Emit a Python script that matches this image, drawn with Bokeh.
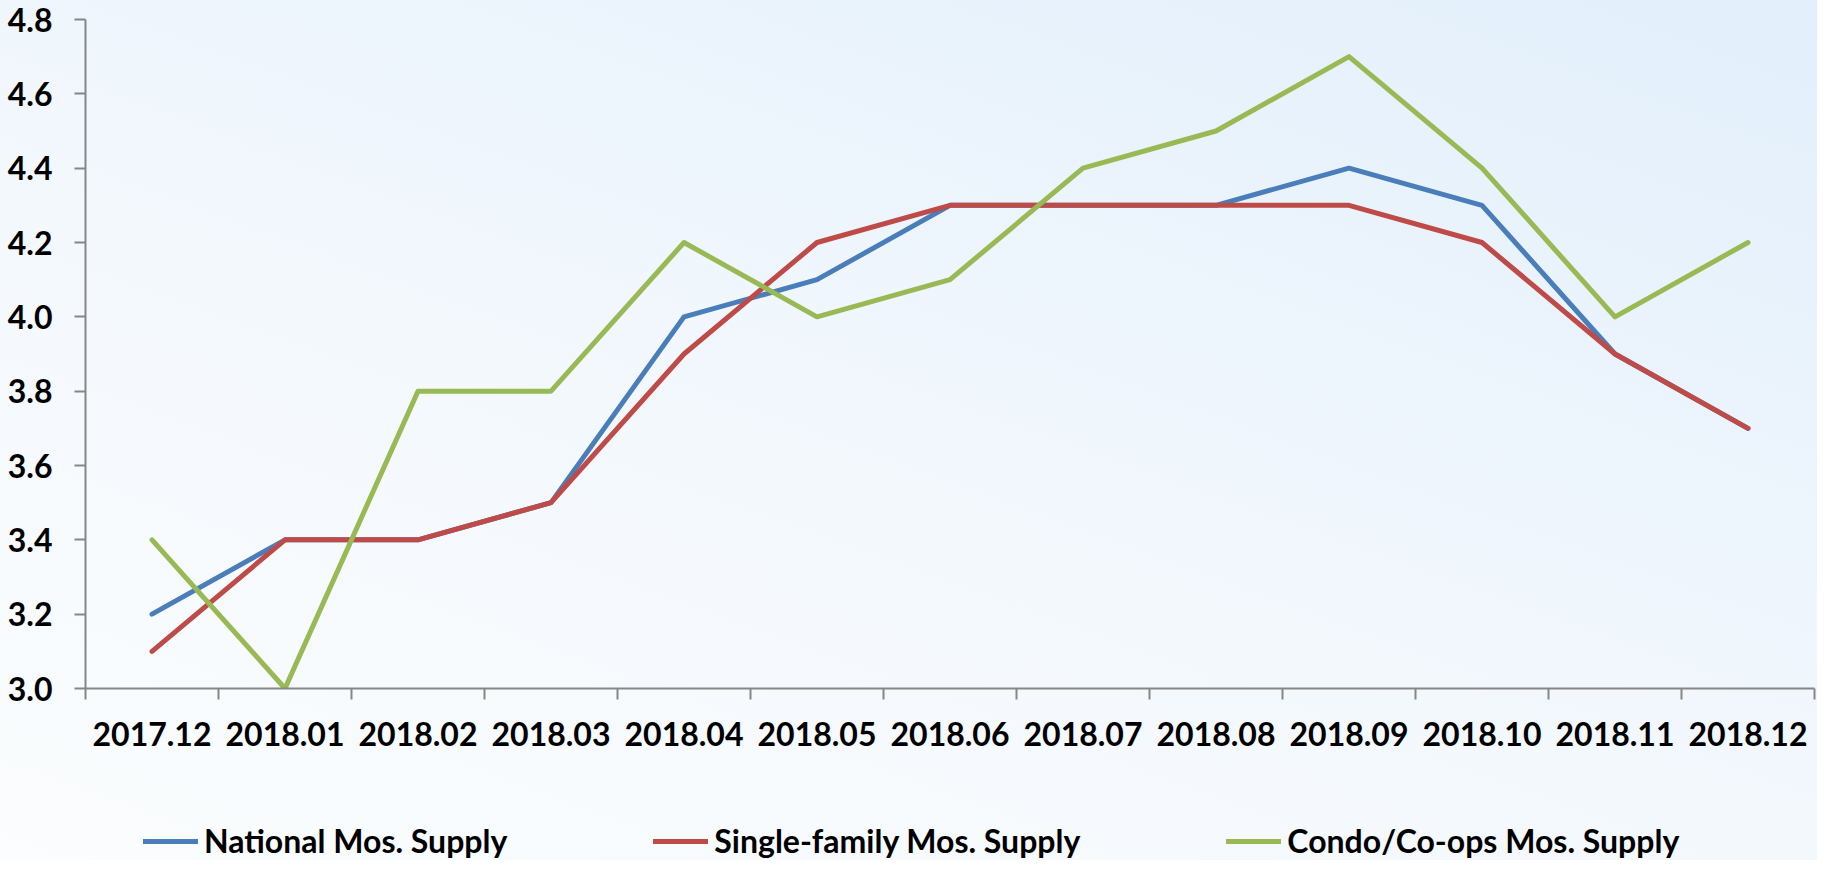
from bokeh.plotting import figure
from bokeh.layouts import column
from bokeh.models import (Range1d, LinearAxis, FixedTicker, Legend, LegendItem,
                          InlineStyleSheet, NumeralTickFormatter, ColumnDataSource)
from bokeh.embed import file_html
from bokeh.resources import INLINE

months = ["2017.12", "2018.01", "2018.02", "2018.03", "2018.04", "2018.05", "2018.06",
          "2018.07", "2018.08", "2018.09", "2018.10", "2018.11", "2018.12"]
national = [3.2, 3.4, 3.4, 3.5, 4.0, 4.1, 4.3, 4.3, 4.3, 4.4, 4.3, 3.9, 3.7]
single_family = [3.1, 3.4, 3.4, 3.5, 3.9, 4.2, 4.3, 4.3, 4.3, 4.3, 4.2, 3.9, 3.7]
condo = [3.4, 3.0, 3.8, 3.8, 4.2, 4.0, 4.1, 4.4, 4.5, 4.7, 4.4, 4.0, 4.2]
y_ticks = [3.0, 3.2, 3.4, 3.6, 3.8, 4.0, 4.2, 4.4, 4.6, 4.8]

series = [
    ("National Mos. Supply", national, "#4A7EBB"),
    ("Single-family Mos. Supply", single_family, "#BE4B48"),
    ("Condo/Co-ops Mos. Supply", condo, "#98B954"),
]

FONT = "Lato"
FS = "32px"
AXIS_COLOR = "#868686"

n = len(months)
centers = [i + 0.5 for i in range(n)]      # category centres on a 0..n axis
bounds = list(range(n + 1))                # category boundaries

p = figure(width=1817, height=766, x_range=Range1d(0, n),
           y_range=Range1d(3.0, 4.8), output_backend="svg", toolbar_location=None,
           x_axis_location=None, min_border_left=85, min_border_right=3,
           min_border_top=19, min_border_bottom=78)
p.background_fill_color = None
p.border_fill_color = None
p.outline_line_color = None
p.grid.visible = False

# y axis
ya = p.yaxis[0]
ya.ticker = FixedTicker(ticks=y_ticks)
ya.formatter = NumeralTickFormatter(format="0.0")
ya.axis_line_color = AXIS_COLOR
ya.axis_line_width = 2
ya.major_tick_line_color = AXIS_COLOR
ya.major_tick_line_width = 2
ya.major_tick_out = 11
ya.major_tick_in = 0
ya.minor_tick_line_color = None
ya.major_label_standoff = 22
ya.major_label_text_font = FONT
ya.major_label_text_font_style = "bold"
ya.major_label_text_font_size = FS
ya.major_label_text_color = "black"

# x axis: labels at category centres, ticks (minor) at category boundaries
xa = LinearAxis(ticker=FixedTicker(ticks=centers, minor_ticks=bounds),
                major_label_overrides={c: m for c, m in zip(centers, months)},
                axis_line_color=AXIS_COLOR, axis_line_width=2,
                major_tick_line_color=None, major_tick_out=11, major_tick_in=0,
                minor_tick_line_color=AXIS_COLOR, minor_tick_line_width=2,
                minor_tick_out=11, minor_tick_in=0,
                major_label_standoff=22, major_label_text_font=FONT,
                major_label_text_font_style="bold", major_label_text_font_size=FS,
                major_label_text_color="black")
p.add_layout(xa, "below")

for name, vals, color in series:
    src = ColumnDataSource(dict(x=centers, y=vals))
    p.line(x="x", y="y", source=src, line_color=color, line_width=5,
           line_join="round", line_cap="round")

# legend strip below the chart (its lines lie outside this strip's y range,
# so only the legend entries show)
pl = figure(width=1817, height=94, x_range=Range1d(0, n), y_range=Range1d(0, 1),
            output_backend="svg", toolbar_location=None,
            x_axis_location=None, y_axis_location=None,
            min_border_left=0, min_border_right=0, min_border_top=0, min_border_bottom=0)
pl.background_fill_color = None
pl.border_fill_color = None
pl.outline_line_color = None
pl.grid.visible = False

items = []
for name, vals, color in series:
    src = ColumnDataSource(dict(x=centers, y=vals))
    r = pl.line(x="x", y="y", source=src, line_color=color, line_width=5, line_cap="round")
    items.append(LegendItem(label=name, renderers=[r]))

lg = Legend(items=items, location=(58, 0), orientation="horizontal",
            background_fill_alpha=0, border_line_color=None,
            padding=0, margin=0, spacing=146, glyph_width=55, glyph_height=26,
            label_height=26, label_standoff=6, label_text_font=FONT,
            label_text_font_style="bold", label_text_font_size=FS,
            label_text_color="black")
pl.add_layout(lg, "center")

layout = column(p, pl, spacing=0, stylesheets=[InlineStyleSheet(
    css=":host { background: linear-gradient(20deg, #FBFDFE 0%, #F3F8FD 45%, #E2EFFB 100%); }")])

open("out.html", "w").write(file_html(layout, INLINE))
